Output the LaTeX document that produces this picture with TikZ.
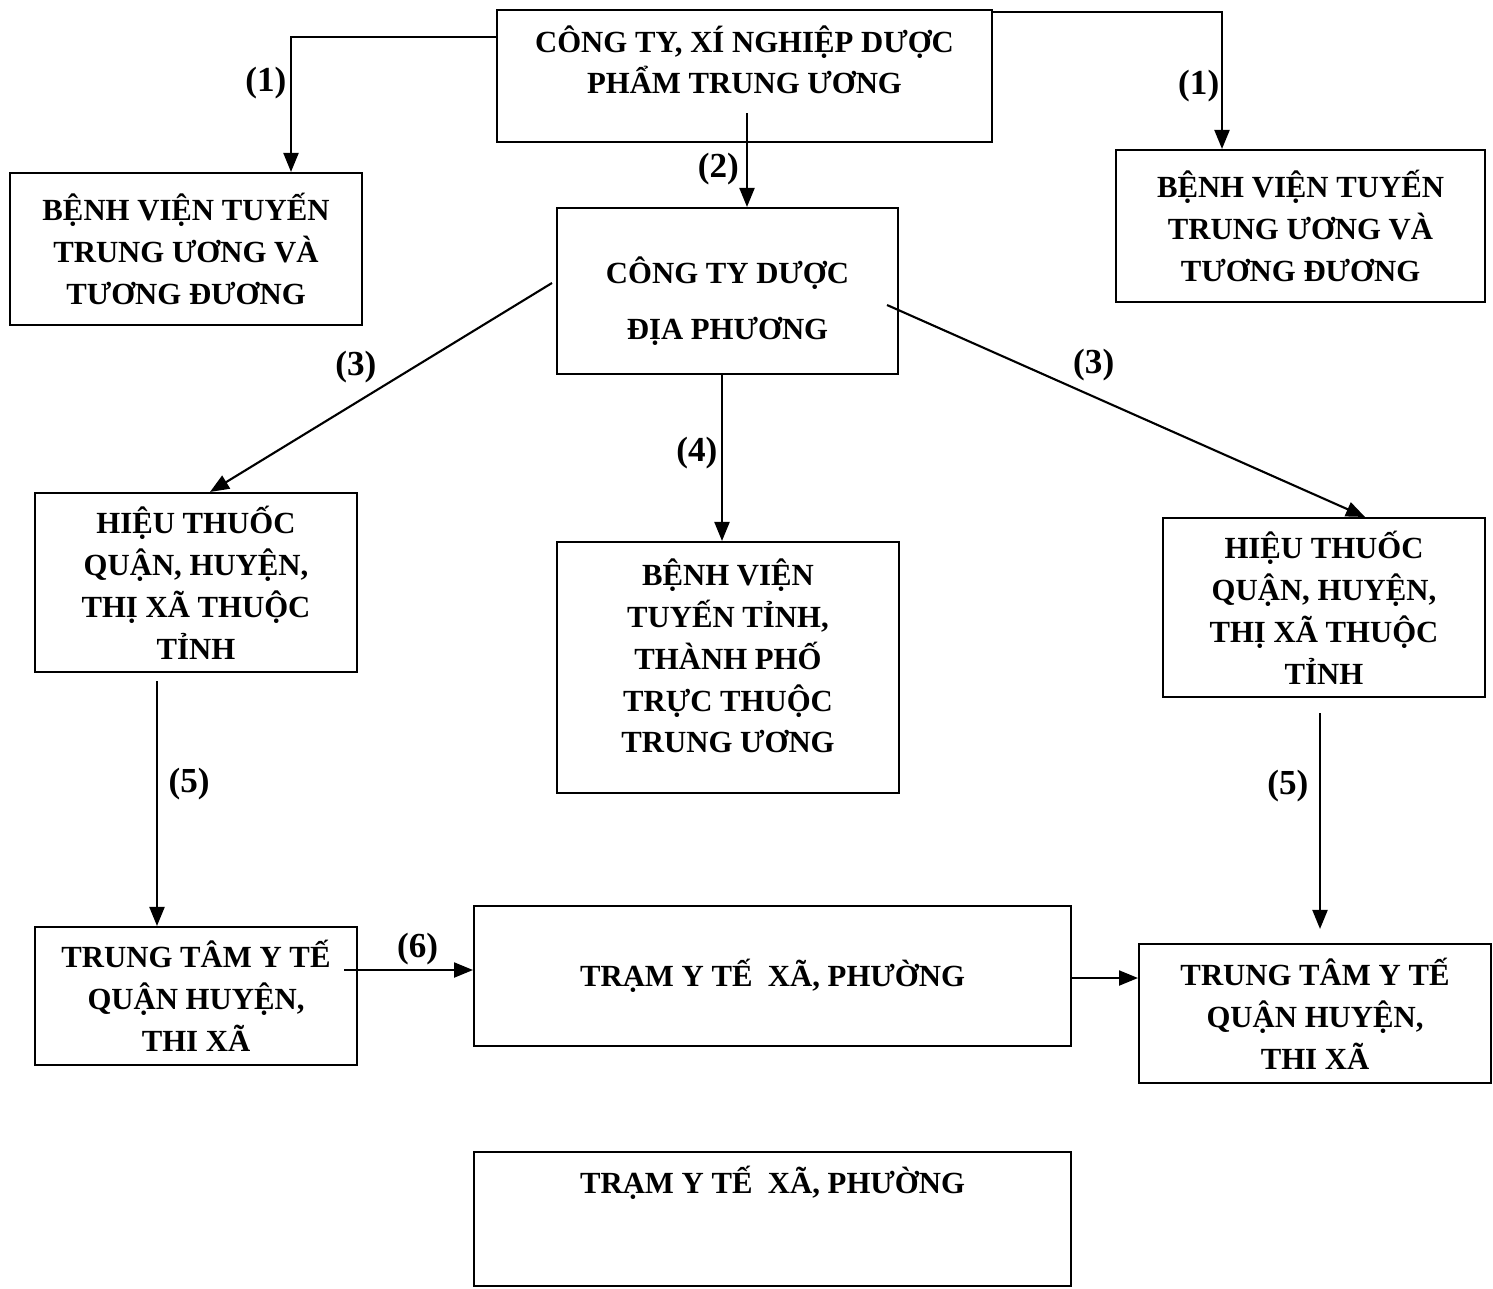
\documentclass[tikz,border=0pt]{standalone}
\usepackage{fontspec}
\setmainfont{Liberation Serif}
\usetikzlibrary{arrows.meta,positioning,calc}

\begin{document}
\begin{tikzpicture}[
    x=0.02cm, y=-0.02cm,
    box/.style={rectangle, draw, line width=1.2pt, inner sep=0pt, align=center, font=\fontsize{17.5}{23.9}\selectfont\bfseries},
    lbl/.style={font=\fontsize{20}{24}\selectfont\bfseries, inner sep=2pt},
    arrow/.style={-{Triangle[length=0.38cm,width=0.3cm]}, line width=1.2pt}
]

\useasboundingbox (0,0) rectangle (1493,1288);

% Central level
\node[box, minimum width=9.9cm, minimum height=2.64cm, text height=1.68cm, text depth=0.96cm] (top) at (744.5,76) {CÔNG TY, XÍ NGHIỆP DƯỢC\\PHẨM TRUNG ƯƠNG};
\node[box, minimum width=7.04cm, minimum height=3.04cm] (lefth) at (186,249) {BỆNH VIỆN TUYẾN\\TRUNG ƯƠNG VÀ\\TƯƠNG ĐƯƠNG};
\node[box, minimum width=7.38cm, minimum height=3.04cm] (righth) at (1300.5,226) {BỆNH VIỆN TUYẾN\\TRUNG ƯƠNG VÀ\\TƯƠNG ĐƯƠNG};

% Provincial level
\node[box, minimum width=6.82cm, minimum height=3.32cm, text height=2.64cm, text depth=0.68cm] (local) at (727.5,291) {CÔNG TY DƯỢC\\[0.3cm]ĐỊA PHƯƠNG};
\node[box, minimum width=6.44cm, minimum height=3.58cm] (lshop) at (196,582.5) {HIỆU THUỐC\\QUẬN, HUYỆN,\\THỊ XÃ THUỘC\\TỈNH};
\node[box, minimum width=6.84cm, minimum height=5.02cm, text height=4.22cm, text depth=0.8cm] (provh) at (728,667.5) {BỆNH VIỆN\\TUYẾN TỈNH,\\THÀNH PHỐ\\TRỰC THUỘC\\TRUNG ƯƠNG};
\node[box, minimum width=6.44cm, minimum height=3.58cm] (rshop) at (1324,607.5) {HIỆU THUỐC\\QUẬN, HUYỆN,\\THỊ XÃ THUỘC\\TỈNH};

% District and commune level
\node[box, minimum width=6.44cm, minimum height=2.76cm] (lcenter) at (196,996) {TRUNG TÂM Y TẾ\\QUẬN HUYỆN,\\THI XÃ};
\node[box, minimum width=11.94cm, minimum height=2.8cm] (station) at (772.5,976) {TRẠM Y TẾ~ XÃ, PHƯỜNG};
\node[box, minimum width=7.04cm, minimum height=2.78cm] (rcenter) at (1315,1013.5) {TRUNG TÂM Y TẾ\\QUẬN HUYỆN,\\THI XÃ};
\node[box, minimum width=11.94cm, minimum height=2.68cm, text height=0.82cm, text depth=1.86cm] (station2) at (772.5,1219) {TRẠM Y TẾ~ XÃ, PHƯỜNG};

% Arrows
\draw[arrow] ($(top.north west)+(0,28)$) -| ($(lefth.north)+(105,0)$) node[lbl, pos=0.67, left] {(1)};
\draw[arrow] ($(top.north east)+(0,3)$) -| ($(righth.north)+(-78.5,0)$) node[lbl, pos=0.77, left, inner sep=1pt] {(1)};
\draw[arrow] ($(top.south)+(2.5,-30)$) -- ($(local.north)+(19.5,0)$) node[lbl, pos=0.6, left, inner sep=4pt] {(2)};
\draw[arrow] ($(local.west)+(-4,-8)$) -- ($(lshop.north)+(14,0)$) node[lbl, pos=0.5, above left] {(3)};
\draw[arrow] ($(local.east)+(-12,14)$) -- ($(rshop.north)+(41,0)$) node[lbl, pos=0.38, above right] {(3)};
\draw[arrow] ($(local.south)+(-5.5,0)$) -- ($(provh.north)+(-6,0)$) node[lbl, pos=0.47, left] {(4)};
\draw[arrow] ($(lshop.south)+(-39,8)$) -- ($(lcenter.north)+(-39,0)$) node[lbl, pos=0.42, right, inner sep=6pt] {(5)};
\draw[arrow] ($(rshop.south)+(-4,15)$) -- ($(rcenter.north)+(5,-14)$) node[lbl, pos=0.34, left, inner sep=6pt] {(5)};
\draw[arrow] ($(lcenter.east)+(-14,-26)$) -- ($(station.west)+(0,-6)$) node[lbl, pos=0.57, above] {(6)};
\draw[arrow] ($(station.east)+(0,2)$) -- ($(rcenter.west)+(0,-35.5)$);

\end{tikzpicture}
\end{document}
